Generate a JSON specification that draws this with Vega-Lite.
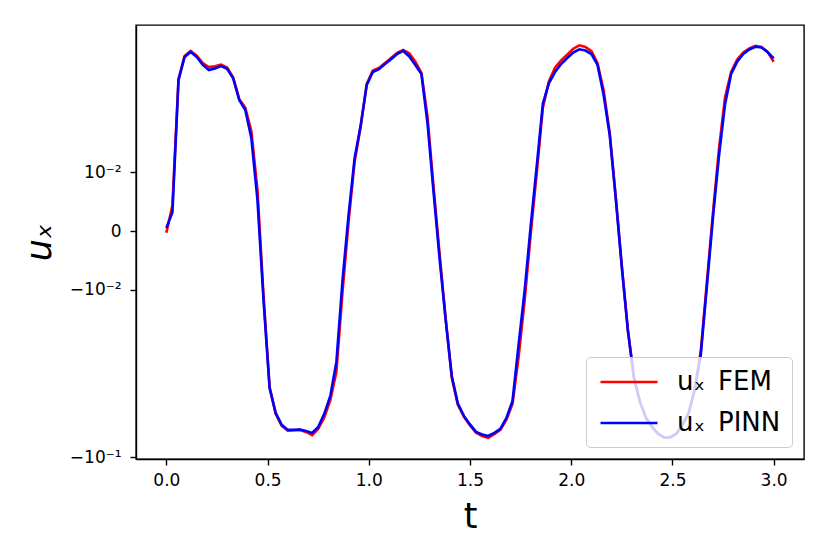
{
  "$schema": "https://vega.github.io/schema/vega-lite/v6.json",
  "width": 668,
  "height": 434,
  "autosize": "none",
  "padding": {"left": 136, "top": 25, "right": 26, "bottom": 95},
  "background": "white",
  "config": {
    "font": "DejaVu Sans",
    "view": {"stroke": "black", "strokeWidth": 1.4},
    "axis": {
      "grid": false,
      "domainColor": "black",
      "domainWidth": 1.4,
      "tickColor": "black",
      "tickWidth": 1.4,
      "tickSize": 6,
      "labelColor": "black",
      "labelFont": "DejaVu Sans",
      "labelFontSize": 17,
      "titleFont": "DejaVu Sans",
      "titleFontWeight": "normal",
      "titleColor": "black",
      "titleFontSize": 35
    }
  },
  "datasets": {
    "curves": [
      {"t": 0.00, "u": 0.0005, "series": "uₓ PINN"},
      {"t": 0.03, "u": 0.0032, "series": "uₓ PINN"},
      {"t": 0.06, "u": 0.0269, "series": "uₓ PINN"},
      {"t": 0.09, "u": 0.0402, "series": "uₓ PINN"},
      {"t": 0.12, "u": 0.0439, "series": "uₓ PINN"},
      {"t": 0.15, "u": 0.0402, "series": "uₓ PINN"},
      {"t": 0.18, "u": 0.0350, "series": "uₓ PINN"},
      {"t": 0.21, "u": 0.0321, "series": "uₓ PINN"},
      {"t": 0.24, "u": 0.0330, "series": "uₓ PINN"},
      {"t": 0.27, "u": 0.0344, "series": "uₓ PINN"},
      {"t": 0.30, "u": 0.0328, "series": "uₓ PINN"},
      {"t": 0.33, "u": 0.0279, "series": "uₓ PINN"},
      {"t": 0.36, "u": 0.0223, "series": "uₓ PINN"},
      {"t": 0.39, "u": 0.0206, "series": "uₓ PINN"},
      {"t": 0.42, "u": 0.0158, "series": "uₓ PINN"},
      {"t": 0.45, "u": 0.0053, "series": "uₓ PINN"},
      {"t": 0.48, "u": -0.0118, "series": "uₓ PINN"},
      {"t": 0.51, "u": -0.0299, "series": "uₓ PINN"},
      {"t": 0.54, "u": -0.0462, "series": "uₓ PINN"},
      {"t": 0.57, "u": -0.0570, "series": "uₓ PINN"},
      {"t": 0.60, "u": -0.0622, "series": "uₓ PINN"},
      {"t": 0.63, "u": -0.0622, "series": "uₓ PINN"},
      {"t": 0.66, "u": -0.0617, "series": "uₓ PINN"},
      {"t": 0.69, "u": -0.0633, "series": "uₓ PINN"},
      {"t": 0.72, "u": -0.0656, "series": "uₓ PINN"},
      {"t": 0.75, "u": -0.0590, "series": "uₓ PINN"},
      {"t": 0.78, "u": -0.0470, "series": "uₓ PINN"},
      {"t": 0.81, "u": -0.0344, "series": "uₓ PINN"},
      {"t": 0.84, "u": -0.0223, "series": "uₓ PINN"},
      {"t": 0.87, "u": -0.0085, "series": "uₓ PINN"},
      {"t": 0.90, "u": 0.0027, "series": "uₓ PINN"},
      {"t": 0.93, "u": 0.0124, "series": "uₓ PINN"},
      {"t": 0.96, "u": 0.0180, "series": "uₓ PINN"},
      {"t": 0.99, "u": 0.0249, "series": "uₓ PINN"},
      {"t": 1.02, "u": 0.0310, "series": "uₓ PINN"},
      {"t": 1.05, "u": 0.0326, "series": "uₓ PINN"},
      {"t": 1.08, "u": 0.0356, "series": "uₓ PINN"},
      {"t": 1.11, "u": 0.0388, "series": "uₓ PINN"},
      {"t": 1.14, "u": 0.0424, "series": "uₓ PINN"},
      {"t": 1.17, "u": 0.0447, "series": "uₓ PINN"},
      {"t": 1.20, "u": 0.0406, "series": "uₓ PINN"},
      {"t": 1.23, "u": 0.0350, "series": "uₓ PINN"},
      {"t": 1.26, "u": 0.0299, "series": "uₓ PINN"},
      {"t": 1.29, "u": 0.0184, "series": "uₓ PINN"},
      {"t": 1.32, "u": 0.0066, "series": "uₓ PINN"},
      {"t": 1.35, "u": -0.0048, "series": "uₓ PINN"},
      {"t": 1.38, "u": -0.0152, "series": "uₓ PINN"},
      {"t": 1.41, "u": -0.0247, "series": "uₓ PINN"},
      {"t": 1.44, "u": -0.0392, "series": "uₓ PINN"},
      {"t": 1.47, "u": -0.0487, "series": "uₓ PINN"},
      {"t": 1.50, "u": -0.0566, "series": "uₓ PINN"},
      {"t": 1.53, "u": -0.0644, "series": "uₓ PINN"},
      {"t": 1.56, "u": -0.0673, "series": "uₓ PINN"},
      {"t": 1.59, "u": -0.0690, "series": "uₓ PINN"},
      {"t": 1.62, "u": -0.0655, "series": "uₓ PINN"},
      {"t": 1.65, "u": -0.0611, "series": "uₓ PINN"},
      {"t": 1.68, "u": -0.0504, "series": "uₓ PINN"},
      {"t": 1.71, "u": -0.0375, "series": "uₓ PINN"},
      {"t": 1.74, "u": -0.0194, "series": "uₓ PINN"},
      {"t": 1.77, "u": -0.0101, "series": "uₓ PINN"},
      {"t": 1.80, "u": 0.0009, "series": "uₓ PINN"},
      {"t": 1.83, "u": 0.0112, "series": "uₓ PINN"},
      {"t": 1.86, "u": 0.0217, "series": "uₓ PINN"},
      {"t": 1.89, "u": 0.0256, "series": "uₓ PINN"},
      {"t": 1.92, "u": 0.0310, "series": "uₓ PINN"},
      {"t": 1.95, "u": 0.0356, "series": "uₓ PINN"},
      {"t": 1.98, "u": 0.0395, "series": "uₓ PINN"},
      {"t": 2.01, "u": 0.0435, "series": "uₓ PINN"},
      {"t": 2.04, "u": 0.0460, "series": "uₓ PINN"},
      {"t": 2.07, "u": 0.0450, "series": "uₓ PINN"},
      {"t": 2.10, "u": 0.0424, "series": "uₓ PINN"},
      {"t": 2.13, "u": 0.0350, "series": "uₓ PINN"},
      {"t": 2.16, "u": 0.0232, "series": "uₓ PINN"},
      {"t": 2.19, "u": 0.0164, "series": "uₓ PINN"},
      {"t": 2.22, "u": 0.0056, "series": "uₓ PINN"},
      {"t": 2.25, "u": -0.0061, "series": "uₓ PINN"},
      {"t": 2.28, "u": -0.0169, "series": "uₓ PINN"},
      {"t": 2.31, "u": -0.0250, "series": "uₓ PINN"},
      {"t": 2.34, "u": -0.0382, "series": "uₓ PINN"},
      {"t": 2.37, "u": -0.0504, "series": "uₓ PINN"},
      {"t": 2.40, "u": -0.0590, "series": "uₓ PINN"},
      {"t": 2.43, "u": -0.0667, "series": "uₓ PINN"},
      {"t": 2.46, "u": -0.0709, "series": "uₓ PINN"},
      {"t": 2.49, "u": -0.0709, "series": "uₓ PINN"},
      {"t": 2.52, "u": -0.0667, "series": "uₓ PINN"},
      {"t": 2.55, "u": -0.0570, "series": "uₓ PINN"},
      {"t": 2.58, "u": -0.0470, "series": "uₓ PINN"},
      {"t": 2.61, "u": -0.0310, "series": "uₓ PINN"},
      {"t": 2.64, "u": -0.0211, "series": "uₓ PINN"},
      {"t": 2.67, "u": -0.0095, "series": "uₓ PINN"},
      {"t": 2.70, "u": 0.0022, "series": "uₓ PINN"},
      {"t": 2.73, "u": 0.0128, "series": "uₓ PINN"},
      {"t": 2.76, "u": 0.0216, "series": "uₓ PINN"},
      {"t": 2.79, "u": 0.0299, "series": "uₓ PINN"},
      {"t": 2.82, "u": 0.0372, "series": "uₓ PINN"},
      {"t": 2.85, "u": 0.0424, "series": "uₓ PINN"},
      {"t": 2.88, "u": 0.0459, "series": "uₓ PINN"},
      {"t": 2.91, "u": 0.0481, "series": "uₓ PINN"},
      {"t": 2.94, "u": 0.0475, "series": "uₓ PINN"},
      {"t": 2.97, "u": 0.0439, "series": "uₓ PINN"},
      {"t": 3.00, "u": 0.0393, "series": "uₓ PINN"},
      {"t": 0.00, "u": -0.0003, "series": "uₓ FEM"},
      {"t": 0.03, "u": 0.0044, "series": "uₓ FEM"},
      {"t": 0.06, "u": 0.0275, "series": "uₓ FEM"},
      {"t": 0.09, "u": 0.0410, "series": "uₓ FEM"},
      {"t": 0.12, "u": 0.0447, "series": "uₓ FEM"},
      {"t": 0.15, "u": 0.0412, "series": "uₓ FEM"},
      {"t": 0.18, "u": 0.0362, "series": "uₓ FEM"},
      {"t": 0.21, "u": 0.0338, "series": "uₓ FEM"},
      {"t": 0.24, "u": 0.0342, "series": "uₓ FEM"},
      {"t": 0.27, "u": 0.0352, "series": "uₓ FEM"},
      {"t": 0.30, "u": 0.0335, "series": "uₓ FEM"},
      {"t": 0.33, "u": 0.0282, "series": "uₓ FEM"},
      {"t": 0.36, "u": 0.0225, "series": "uₓ FEM"},
      {"t": 0.39, "u": 0.0210, "series": "uₓ FEM"},
      {"t": 0.42, "u": 0.0170, "series": "uₓ FEM"},
      {"t": 0.45, "u": 0.0070, "series": "uₓ FEM"},
      {"t": 0.48, "u": -0.0110, "series": "uₓ FEM"},
      {"t": 0.51, "u": -0.0295, "series": "uₓ FEM"},
      {"t": 0.54, "u": -0.0470, "series": "uₓ FEM"},
      {"t": 0.57, "u": -0.0580, "series": "uₓ FEM"},
      {"t": 0.60, "u": -0.0630, "series": "uₓ FEM"},
      {"t": 0.63, "u": -0.0625, "series": "uₓ FEM"},
      {"t": 0.66, "u": -0.0622, "series": "uₓ FEM"},
      {"t": 0.69, "u": -0.0645, "series": "uₓ FEM"},
      {"t": 0.72, "u": -0.0680, "series": "uₓ FEM"},
      {"t": 0.75, "u": -0.0610, "series": "uₓ FEM"},
      {"t": 0.78, "u": -0.0500, "series": "uₓ FEM"},
      {"t": 0.81, "u": -0.0370, "series": "uₓ FEM"},
      {"t": 0.84, "u": -0.0240, "series": "uₓ FEM"},
      {"t": 0.87, "u": -0.0105, "series": "uₓ FEM"},
      {"t": 0.90, "u": 0.0015, "series": "uₓ FEM"},
      {"t": 0.93, "u": 0.0118, "series": "uₓ FEM"},
      {"t": 0.96, "u": 0.0178, "series": "uₓ FEM"},
      {"t": 0.99, "u": 0.0252, "series": "uₓ FEM"},
      {"t": 1.02, "u": 0.0318, "series": "uₓ FEM"},
      {"t": 1.05, "u": 0.0333, "series": "uₓ FEM"},
      {"t": 1.08, "u": 0.0362, "series": "uₓ FEM"},
      {"t": 1.11, "u": 0.0395, "series": "uₓ FEM"},
      {"t": 1.14, "u": 0.0432, "series": "uₓ FEM"},
      {"t": 1.17, "u": 0.0455, "series": "uₓ FEM"},
      {"t": 1.20, "u": 0.0430, "series": "uₓ FEM"},
      {"t": 1.23, "u": 0.0372, "series": "uₓ FEM"},
      {"t": 1.26, "u": 0.0305, "series": "uₓ FEM"},
      {"t": 1.29, "u": 0.0195, "series": "uₓ FEM"},
      {"t": 1.32, "u": 0.0075, "series": "uₓ FEM"},
      {"t": 1.35, "u": -0.0040, "series": "uₓ FEM"},
      {"t": 1.38, "u": -0.0150, "series": "uₓ FEM"},
      {"t": 1.41, "u": -0.0250, "series": "uₓ FEM"},
      {"t": 1.44, "u": -0.0400, "series": "uₓ FEM"},
      {"t": 1.47, "u": -0.0495, "series": "uₓ FEM"},
      {"t": 1.50, "u": -0.0575, "series": "uₓ FEM"},
      {"t": 1.53, "u": -0.0655, "series": "uₓ FEM"},
      {"t": 1.56, "u": -0.0690, "series": "uₓ FEM"},
      {"t": 1.59, "u": -0.0712, "series": "uₓ FEM"},
      {"t": 1.62, "u": -0.0670, "series": "uₓ FEM"},
      {"t": 1.65, "u": -0.0620, "series": "uₓ FEM"},
      {"t": 1.68, "u": -0.0520, "series": "uₓ FEM"},
      {"t": 1.71, "u": -0.0395, "series": "uₓ FEM"},
      {"t": 1.74, "u": -0.0215, "series": "uₓ FEM"},
      {"t": 1.77, "u": -0.0118, "series": "uₓ FEM"},
      {"t": 1.80, "u": -0.0005, "series": "uₓ FEM"},
      {"t": 1.83, "u": 0.0100, "series": "uₓ FEM"},
      {"t": 1.86, "u": 0.0210, "series": "uₓ FEM"},
      {"t": 1.89, "u": 0.0265, "series": "uₓ FEM"},
      {"t": 1.92, "u": 0.0335, "series": "uₓ FEM"},
      {"t": 1.95, "u": 0.0380, "series": "uₓ FEM"},
      {"t": 1.98, "u": 0.0420, "series": "uₓ FEM"},
      {"t": 2.01, "u": 0.0465, "series": "uₓ FEM"},
      {"t": 2.04, "u": 0.0493, "series": "uₓ FEM"},
      {"t": 2.07, "u": 0.0480, "series": "uₓ FEM"},
      {"t": 2.10, "u": 0.0445, "series": "uₓ FEM"},
      {"t": 2.13, "u": 0.0362, "series": "uₓ FEM"},
      {"t": 2.16, "u": 0.0240, "series": "uₓ FEM"},
      {"t": 2.19, "u": 0.0168, "series": "uₓ FEM"},
      {"t": 2.22, "u": 0.0058, "series": "uₓ FEM"},
      {"t": 2.25, "u": -0.0060, "series": "uₓ FEM"},
      {"t": 2.28, "u": -0.0170, "series": "uₓ FEM"},
      {"t": 2.31, "u": -0.0252, "series": "uₓ FEM"},
      {"t": 2.34, "u": -0.0385, "series": "uₓ FEM"},
      {"t": 2.37, "u": -0.0505, "series": "uₓ FEM"},
      {"t": 2.40, "u": -0.0592, "series": "uₓ FEM"},
      {"t": 2.43, "u": -0.0668, "series": "uₓ FEM"},
      {"t": 2.46, "u": -0.0710, "series": "uₓ FEM"},
      {"t": 2.49, "u": -0.0705, "series": "uₓ FEM"},
      {"t": 2.52, "u": -0.0660, "series": "uₓ FEM"},
      {"t": 2.55, "u": -0.0560, "series": "uₓ FEM"},
      {"t": 2.58, "u": -0.0460, "series": "uₓ FEM"},
      {"t": 2.61, "u": -0.0300, "series": "uₓ FEM"},
      {"t": 2.64, "u": -0.0205, "series": "uₓ FEM"},
      {"t": 2.67, "u": -0.0088, "series": "uₓ FEM"},
      {"t": 2.70, "u": 0.0030, "series": "uₓ FEM"},
      {"t": 2.73, "u": 0.0140, "series": "uₓ FEM"},
      {"t": 2.76, "u": 0.0228, "series": "uₓ FEM"},
      {"t": 2.79, "u": 0.0310, "series": "uₓ FEM"},
      {"t": 2.82, "u": 0.0385, "series": "uₓ FEM"},
      {"t": 2.85, "u": 0.0435, "series": "uₓ FEM"},
      {"t": 2.88, "u": 0.0468, "series": "uₓ FEM"},
      {"t": 2.91, "u": 0.0488, "series": "uₓ FEM"},
      {"t": 2.94, "u": 0.0480, "series": "uₓ FEM"},
      {"t": 2.97, "u": 0.0440, "series": "uₓ FEM"},
      {"t": 3.00, "u": 0.0371, "series": "uₓ FEM"}
    ]
  },
  "data": {"name": "curves"},
  "encoding": {
    "x": {
      "field": "t",
      "type": "quantitative",
      "title": "t",
      "scale": {"domain": [-0.15, 3.15], "zero": false, "nice": false},
      "axis": {
        "values": [0, 0.5, 1, 1.5, 2, 2.5, 3],
        "format": ".1f",
        "labelPadding": 7,
        "titlePadding": 11
      }
    },
    "y": {
      "field": "u",
      "type": "quantitative",
      "title": "uₓ",
      "scale": {
        "type": "linear",
        "zero": false,
        "nice": false,
        "domain": [-0.1031, -0.09, -0.08, -0.07, -0.06, -0.05, -0.045, -0.04, -0.035, -0.03, -0.025, 0.025, 0.03, 0.035, 0.04, 0.045, 0.05, 0.06, 0.0703],
        "range": [434, 426.22, 419.47, 411.81, 402.97, 392.51, 386.47, 379.71, 372.05, 363.2, 352.75, 59.25, 48.8, 39.95, 32.29, 25.53, 19.49, 9.03, 0]
      },
      "axis": {
        "values": [-0.1, -0.01, 0, 0.01],
        "labelExpr": "datum.value == 0 ? '0' : datum.value > 0 ? '10⁻²' : datum.value > -0.05 ? '−10⁻²' : '−10⁻¹'",
        "labelPadding": 9,
        "titleFontStyle": "italic",
        "titlePadding": 12
      }
    },
    "color": {
      "field": "series",
      "type": "nominal",
      "scale": {"domain": ["uₓ FEM", "uₓ PINN"], "range": ["#ff0000", "#0000ff"]},
      "legend": {
        "title": null,
        "orient": "bottom-right",
        "offset": 12,
        "padding": 11,
        "fillColor": "rgba(255,255,255,0.8)",
        "strokeColor": "#cccccc",
        "cornerRadius": 4,
        "symbolType": "M-0.84,0L3.72,0",
        "symbolSize": 625,
        "symbolStrokeWidth": 2.6,
        "symbolFillColor": "transparent",
        "labelExpr": "replace(datum.label, ' ', '\u2002')",
        "labelFont": "DejaVu Sans",
        "labelFontSize": 26,
        "labelColor": "black",
        "labelOffset": 52,
        "rowPadding": 14,
        "labelLimit": 300
      }
    }
  },
  "layer": [
    {
      "transform": [{"filter": "datum.series == 'uₓ FEM'"}],
      "mark": {"type": "line", "strokeWidth": 2.6, "clip": true}
    },
    {
      "transform": [{"filter": "datum.series == 'uₓ PINN'"}],
      "mark": {"type": "line", "strokeWidth": 2.6, "clip": true}
    }
  ]
}
